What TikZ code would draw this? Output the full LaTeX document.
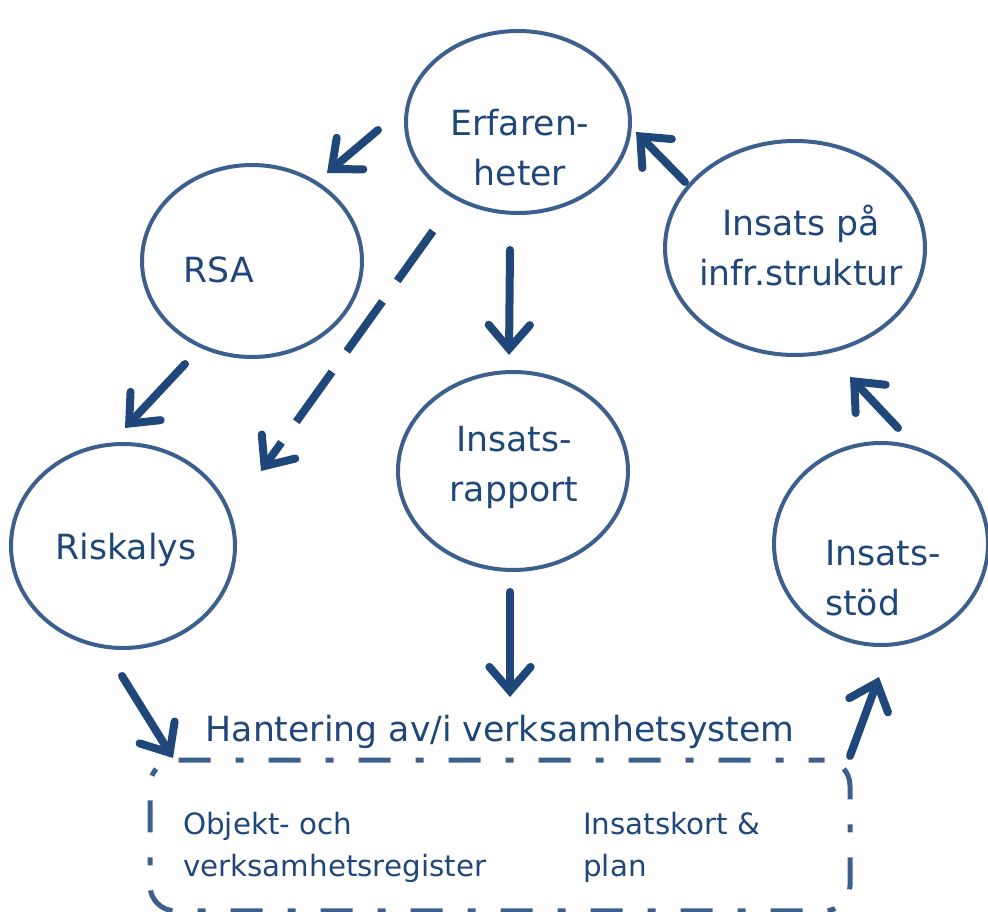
\documentclass[tikz,border=0pt]{standalone}
\usepackage{fontspec}
\setmainfont{DejaVu Sans}
\usetikzlibrary{arrows.meta,shapes.geometric}
\definecolor{ringc}{HTML}{3C5F8E}
\definecolor{arrc}{HTML}{1F477A}
\definecolor{txtc}{HTML}{1F477A}
\begin{document}
\begin{tikzpicture}[x=0.75pt,y=-0.75pt,
  ring/.style={draw=ringc, line width=3pt, ellipse, inner sep=0pt},
  lbl/.style={text=txtc, font=\fontsize{26}{37.5}\selectfont, align=center, inner sep=0pt},
  boxlbl/.style={text=txtc, font=\fontsize{22}{31.5}\selectfont, align=left, inner sep=0pt, anchor=west},
  arr/.style={draw=arrc, line width=6pt, line cap=round, -{Straight Barb[length=18pt,width=31pt,line cap=round]}},
  dasharr/.style={arr, line cap=butt, dash pattern=on 46pt off 19pt},
  sysbox/.style={draw=ringc, line width=3.75pt, rounded corners=19pt, minimum width=525pt, minimum height=113pt, dash pattern=on 24pt off 18.75pt on 6pt off 18.75pt, dash phase=12pt},
]
\useasboundingbox (0,0) rectangle (988,912);
\clip (0,0) rectangle (988,912);

% ellipses
\node[ring, minimum width=168pt, minimum height=136.5pt] (E) at (518,122) {};
\node[ring, minimum width=165pt, minimum height=144pt] (R) at (252,261) {};
\node[ring, minimum width=195pt, minimum height=160.5pt] (I) at (795,248) {};
\node[ring, minimum width=168pt, minimum height=153pt] (K) at (123,546) {};
\node[ring, minimum width=172.5pt, minimum height=148.5pt] (P) at (513,471) {};
\node[ring, minimum width=160.5pt, minimum height=151.5pt] (S) at (881,544) {};

% labels
\node[lbl] (Et) at (520,148) {Erfaren-\\heter};
\node[lbl] (Rt) at (219,270) {RSA};
\node[lbl] (It) at (801,246) {Insats på\\infr.struktur};
\node[lbl] (Kt) at (126,550) {Riskalys};
\node[lbl] (Pt) at (514,467) {Insats-\\rapport};
\node[lbl, align=left, anchor=west] (St) at (825,578) {Insats-\\stöd};

% system box
\node[sysbox] (B) at (500,835.5) {};
\node[text=txtc, font=\fontsize{26}{30}\selectfont, inner sep=0pt] (Bt) at (500,732) {Hantering av/i verksamhetsystem};
\node[boxlbl] (B1) at (183,847) {Objekt- och\\verksamhetsregister};
\node[boxlbl] (B2) at (583,847) {Insatskort \&\\plan};

% connector end points
\coordinate (a1s) at (378,130); \coordinate (a1e) at (327,173);
\coordinate (a2s) at (185,364); \coordinate (a2e) at (125,428);
\coordinate (a3s) at (433,231); \coordinate (a3e) at (261,471);
\coordinate (a4s) at (510,250); \coordinate (a4e) at (509,355);
\coordinate (a5s) at (510,592); \coordinate (a5e) at (510,697);
\coordinate (a6s) at (122,676); \coordinate (a6e) at (173,758);
\coordinate (a7s) at (850,756); \coordinate (a7e) at (879,677);
\coordinate (a8s) at (898,428); \coordinate (a8e) at (850,377);
\coordinate (a9s) at (685,182); \coordinate (a9e) at (636,132);

\draw[arr] (a1s) -- (a1e);
\draw[arr] (a2s) -- (a2e);
\draw[dasharr] (a3s) -- (a3e);
\draw[arr] (a4s) -- (a4e);
\draw[arr] (a5s) -- (a5e);
\draw[arr] (a6s) -- (a6e);
\draw[arr] (a7s) -- (a7e);
\draw[arr] (a8s) -- (a8e);
\draw[arr] (a9s) -- (a9e);
\end{tikzpicture}
\end{document}
